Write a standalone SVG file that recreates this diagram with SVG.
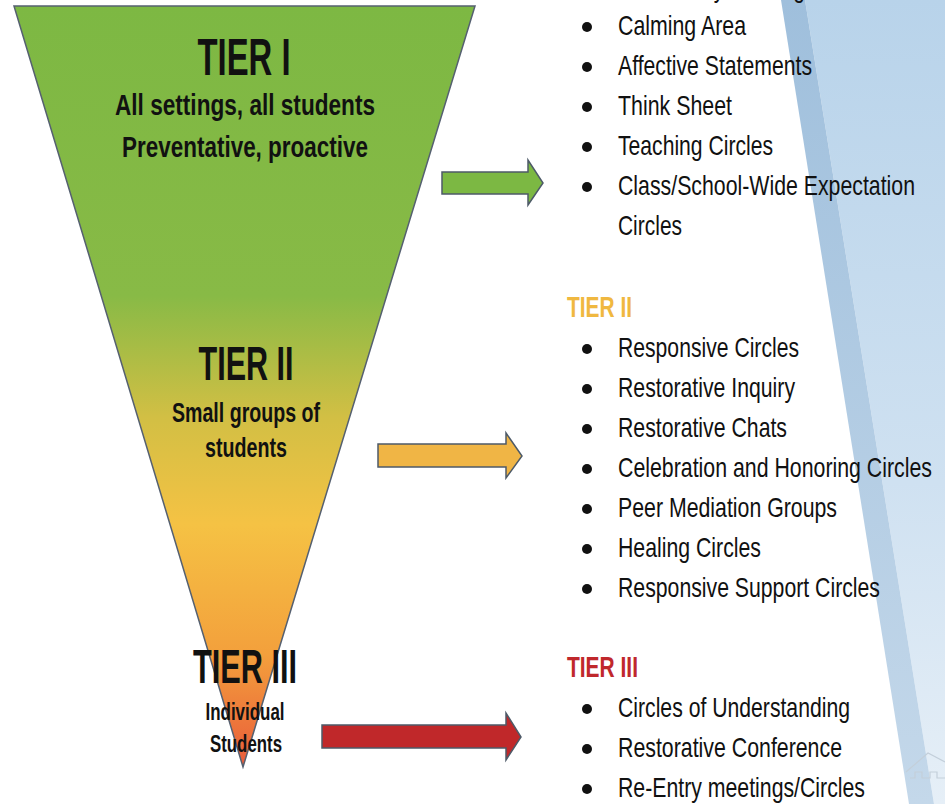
<svg xmlns="http://www.w3.org/2000/svg" width="945" height="804" viewBox="0 0 945 804">
<defs>
<linearGradient id="funnelGrad" x1="0" y1="6" x2="0" y2="768" gradientUnits="userSpaceOnUse">
<stop offset="0" stop-color="#7db843"/>
<stop offset="0.38" stop-color="#88ba46"/>
<stop offset="0.54" stop-color="#d2bf44"/>
<stop offset="0.68" stop-color="#f5c244"/>
<stop offset="0.85" stop-color="#f3a03c"/>
<stop offset="1" stop-color="#e95a3a"/>
</linearGradient>
<linearGradient id="blueGrad" x1="0" y1="0" x2="0" y2="804" gradientUnits="userSpaceOnUse">
<stop offset="0" stop-color="#b8d3ea"/>
<stop offset="0.6" stop-color="#cfe1f1"/>
<stop offset="1" stop-color="#e6eff7"/>
</linearGradient>
<linearGradient id="stripGrad" x1="0" y1="0" x2="0" y2="804" gradientUnits="userSpaceOnUse">
<stop offset="0" stop-color="#9fbfdc"/>
<stop offset="1" stop-color="#c4d8ea"/>
</linearGradient>
</defs>
<style>
.item{font-family:"Liberation Sans",Arial,sans-serif;font-size:28px;fill:#111}
.fl{font-family:"Liberation Sans",Arial,sans-serif;font-weight:bold;fill:#111;text-anchor:middle}
.hd{font-family:"Liberation Sans",Arial,sans-serif;font-weight:bold;font-size:30px}
.bul{fill:#111}
.arrow{stroke:#4d5a68;stroke-width:1.5}
</style>
<rect width="945" height="804" fill="#ffffff"/>
<g id="background">
<polygon points="805,0 945,0 945,804 934,804" fill="url(#blueGrad)"/>
<polygon points="781,0 805,0 934,804 909,804" fill="url(#stripGrad)"/>
<path d="M906,772 L928,753 L945,762 M910,778 L915,778 L915,772 L922,772 L922,778 L930,778 L930,772 L937,772 L937,778 L945,778" fill="none" stroke="#c3cfda" stroke-width="1.2"/>
</g>
<g id="funnel">
<polygon points="14,6 475,6 243,767" fill="url(#funnelGrad)" stroke="#556070" stroke-width="1.5"/>
</g>
<g id="tier1-label">
<text class="fl" x="244" y="75" font-size="51" textLength="93" lengthAdjust="spacingAndGlyphs">TIER I</text>
<text class="fl" x="245" y="115" font-size="29" textLength="260" lengthAdjust="spacingAndGlyphs">All settings, all students</text>
<text class="fl" x="245" y="157" font-size="29" textLength="246" lengthAdjust="spacingAndGlyphs">Preventative, proactive</text>
</g>
<g id="tier2-label">
<text class="fl" x="246" y="380" font-size="49" textLength="95" lengthAdjust="spacingAndGlyphs">TIER II</text>
<text class="fl" x="246" y="422" font-size="27" textLength="148" lengthAdjust="spacingAndGlyphs">Small groups of</text>
<text class="fl" x="246" y="457" font-size="27" textLength="82" lengthAdjust="spacingAndGlyphs">students</text>
</g>
<g id="tier3-label">
<text class="fl" x="245" y="683" font-size="49" textLength="104" lengthAdjust="spacingAndGlyphs">TIER III</text>
<text class="fl" x="245" y="720" font-size="23" textLength="79" lengthAdjust="spacingAndGlyphs">Individual</text>
<text class="fl" x="246" y="752" font-size="23" textLength="72" lengthAdjust="spacingAndGlyphs">Students</text>
</g>
<g id="connectors">
<polygon class="arrow" fill="#7cb843" points="442,172 528,172 528,160 543,183 528,205 528,194 442,194"/>
<polygon class="arrow" fill="#f0b545" points="378,444 506,444 506,433 522,456 506,478 506,467 378,467"/>
<polygon class="arrow" fill="#c0282a" points="322,725 506,725 506,713 521,737 506,760 506,748 322,748"/>
</g>
<g id="tier1-list">
<circle class="bul" cx="587" cy="-13" r="5"/>
<text class="item" x="618" y="-3" textLength="257" lengthAdjust="spacingAndGlyphs">Community Building Circles</text>
<circle class="bul" cx="587" cy="27" r="5"/>
<text class="item" x="618" y="35" textLength="128" lengthAdjust="spacingAndGlyphs">Calming Area</text>
<circle class="bul" cx="587" cy="67" r="5"/>
<text class="item" x="618" y="75" textLength="194" lengthAdjust="spacingAndGlyphs">Affective Statements</text>
<circle class="bul" cx="587" cy="107" r="5"/>
<text class="item" x="618" y="115" textLength="114" lengthAdjust="spacingAndGlyphs">Think Sheet</text>
<circle class="bul" cx="587" cy="147" r="5"/>
<text class="item" x="618" y="155" textLength="155" lengthAdjust="spacingAndGlyphs">Teaching Circles</text>
<circle class="bul" cx="587" cy="187" r="5"/>
<text class="item" x="618" y="195" textLength="297" lengthAdjust="spacingAndGlyphs">Class/School-Wide Expectation</text>
<text class="item" x="618" y="235" textLength="64" lengthAdjust="spacingAndGlyphs">Circles</text>
</g>
<g id="tier2-list">
<text class="hd" x="567" y="317" fill="#f0b840" textLength="65" lengthAdjust="spacingAndGlyphs">TIER II</text>
<circle class="bul" cx="587" cy="349" r="5"/>
<text class="item" x="618" y="357" textLength="181" lengthAdjust="spacingAndGlyphs">Responsive Circles</text>
<circle class="bul" cx="587" cy="389" r="5"/>
<text class="item" x="618" y="397" textLength="177" lengthAdjust="spacingAndGlyphs">Restorative Inquiry</text>
<circle class="bul" cx="587" cy="429" r="5"/>
<text class="item" x="618" y="437" textLength="169" lengthAdjust="spacingAndGlyphs">Restorative Chats</text>
<circle class="bul" cx="587" cy="469" r="5"/>
<text class="item" x="618" y="477" textLength="314" lengthAdjust="spacingAndGlyphs">Celebration and Honoring Circles</text>
<circle class="bul" cx="587" cy="509" r="5"/>
<text class="item" x="618" y="517" textLength="219" lengthAdjust="spacingAndGlyphs">Peer Mediation Groups</text>
<circle class="bul" cx="587" cy="549" r="5"/>
<text class="item" x="618" y="557" textLength="143" lengthAdjust="spacingAndGlyphs">Healing Circles</text>
<circle class="bul" cx="587" cy="589" r="5"/>
<text class="item" x="618" y="597" textLength="262" lengthAdjust="spacingAndGlyphs">Responsive Support Circles</text>
</g>
<g id="tier3-list">
<text class="hd" x="567" y="677" fill="#c0282c" textLength="71" lengthAdjust="spacingAndGlyphs">TIER III</text>
<circle class="bul" cx="587" cy="709" r="5"/>
<text class="item" x="618" y="717" textLength="232" lengthAdjust="spacingAndGlyphs">Circles of Understanding</text>
<circle class="bul" cx="587" cy="749" r="5"/>
<text class="item" x="618" y="757" textLength="224" lengthAdjust="spacingAndGlyphs">Restorative Conference</text>
<circle class="bul" cx="587" cy="789" r="5"/>
<text class="item" x="618" y="797" textLength="247" lengthAdjust="spacingAndGlyphs">Re-Entry meetings/Circles</text>
</g>
</svg>
